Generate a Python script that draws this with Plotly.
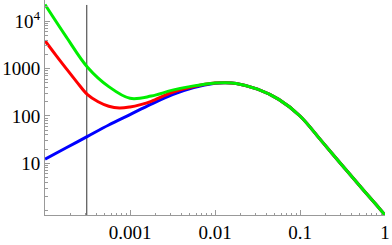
import plotly.graph_objects as go

# ---- data (log10 of x and y values) ----
logx = [-4.0, -3.75, -3.5, -3.25, -3.0, -2.75, -2.5, -2.25, -2.0, -1.875, -1.75, -1.5, -1.25, -1.0, -0.75, -0.5, -0.25, -0.1, 0.0]
green_logy = [4.352, 3.67, 3.03, 2.62, 2.373, 2.42, 2.545, 2.635, 2.697, 2.703, 2.685, 2.565, 2.35, 2.00, 1.48, 0.95, 0.43, 0.12, -0.089]
blue_logy = [1.09, 1.33, 1.57, 1.81, 2.03, 2.25, 2.45, 2.60, 2.69, 2.703, 2.685, 2.565, 2.35, 2.00, 1.48, 0.95, 0.43, 0.12, -0.089]

red_logx = [-4.0, -3.875, -3.75, -3.625, -3.5, -3.375, -3.25, -3.125, -3.0, -2.875, -2.75, -2.5, -2.25, -2.0, -1.875, -1.75, -1.5, -1.25, -1.0, -0.75, -0.5, -0.25, -0.1, 0.0]
red_logy = [3.589, 3.29, 3.00, 2.715, 2.45, 2.30, 2.205, 2.168, 2.19, 2.24, 2.31, 2.50, 2.62, 2.695, 2.703, 2.685, 2.565, 2.35, 2.00, 1.48, 0.95, 0.43, 0.12, -0.089]

cut_x = 3.1e-4
cut_y = [0.5, 2.2e4]

x_tickvals = [0.001, 0.01, 0.1, 1]
x_ticktext = ["0.001", "0.01", "0.1", "1"]
y_tickvals = [10, 100, 1000, 10000]
y_ticktext = ["10", "100", "1000", "10<sup>4</sup>"]

x_minor = [m * 10.0 ** e for e in range(-4, 0) for m in range(2, 10)]
y_minor = [1] + [m * 10.0 ** e for e in range(0, 5) for m in range(2, 10)]

fig = go.Figure()
fig.add_trace(go.Scatter(x=[cut_x, cut_x], y=cut_y, mode="lines",
                         line=dict(color="#333333", width=1)))
for lx, ly, c in [(logx, blue_logy, "#0000ff"), (red_logx, red_logy, "#ff0000"), (logx, green_logy, "#00ee00")]:
    fig.add_trace(go.Scatter(x=[10 ** v for v in lx], y=[10 ** v for v in ly], mode="lines",
                             line=dict(color=c, width=3, shape="spline", smoothing=1)))

axis_font = dict(family="Liberation Serif, Times New Roman, serif", size=19, color="black")
common = dict(type="log", showgrid=False, zeroline=False, automargin=False,
              showline=True, linecolor="#999999", linewidth=1, tickmode="array",
              ticks="inside", ticklen=5, tickcolor="#999999", tickwidth=1,
              tickfont=axis_font)
fig.update_xaxes(range=[-4, 0], tickvals=x_tickvals, ticktext=x_ticktext,
                 minor=dict(tickmode="array", tickvals=x_minor, ticks="inside",
                            ticklen=2.5, tickcolor="#999999", tickwidth=1, showgrid=False),
                 **common)
fig.update_yaxes(range=[-0.089, 4.447], tickvals=y_tickvals, ticktext=y_ticktext,
                 minor=dict(tickmode="array", tickvals=y_minor, ticks="inside",
                            ticklen=2.5, tickcolor="#999999", tickwidth=1, showgrid=False),
                 **common)
fig.update_layout(template="none", width=392, height=245, margin=dict(l=45, r=7, t=0, b=30),
                  plot_bgcolor="white", paper_bgcolor="white", showlegend=False,
                  font=axis_font)
fig.write_html("out.html", config={"displayModeBar": False},
               post_script="document.body.style.margin='0';document.body.style.overflow='hidden';")
